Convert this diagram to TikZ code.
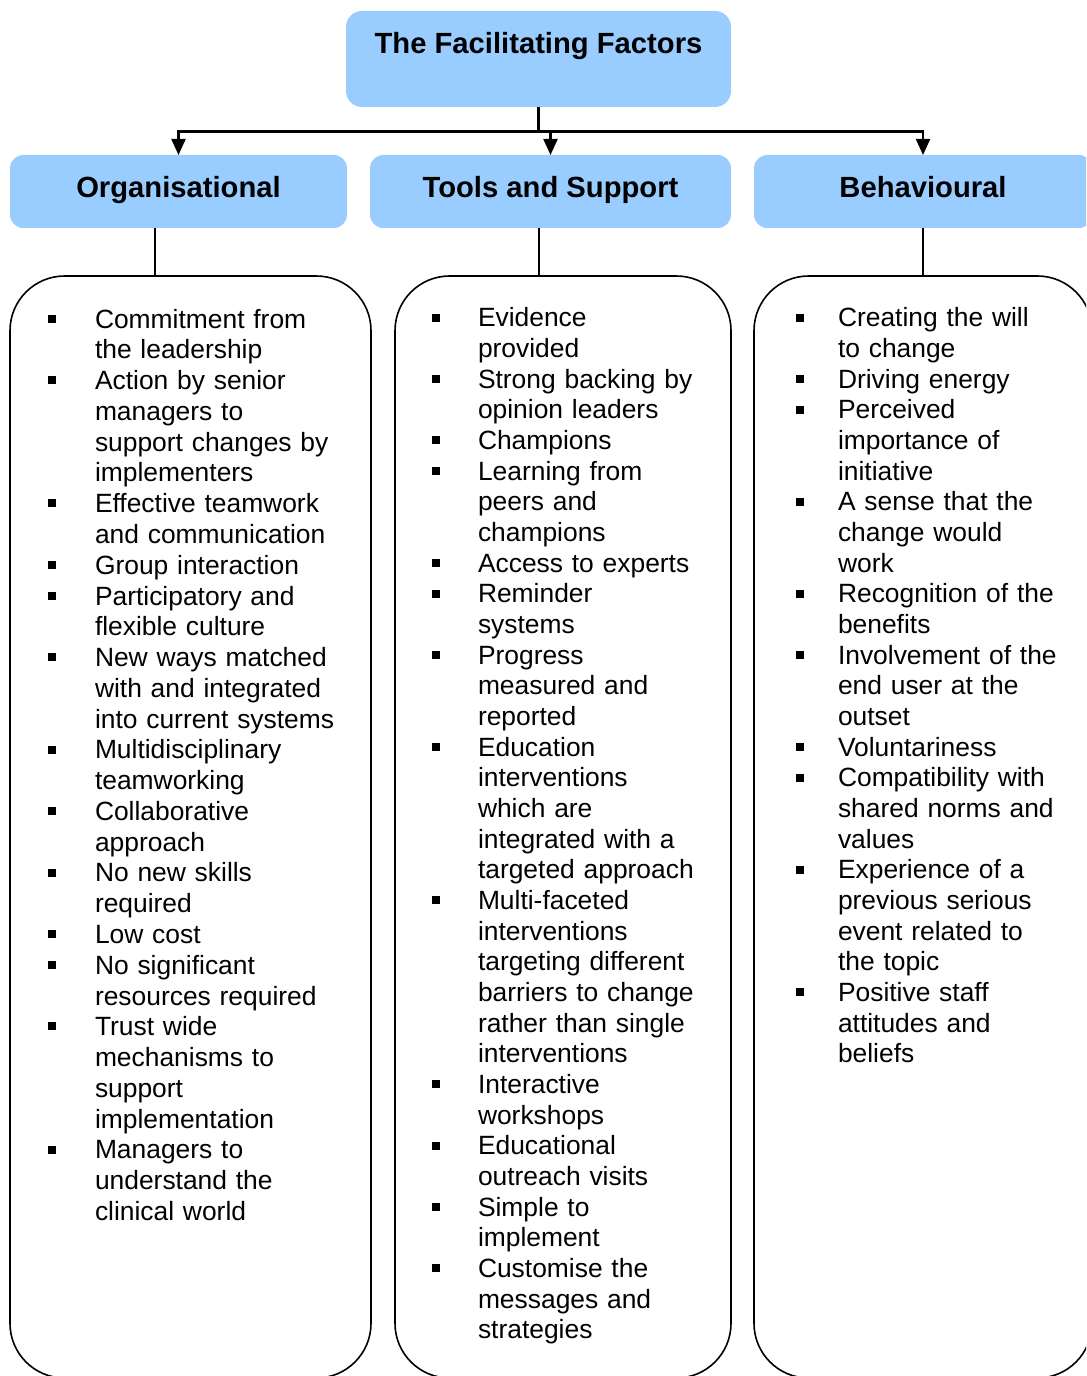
\documentclass[tikz,border=0pt]{standalone}
\usepackage{fontspec}
\setmainfont{Liberation Sans}
\usetikzlibrary{arrows.meta}
\definecolor{hdrblue}{RGB}{153,204,255}
\setlength{\parindent}{0pt}
\def\bgap{29pt}
\newcommand{\sqb}{\leavevmode\strut\llap{\rule[4pt]{6pt}{6pt}\hspace{\bgap}}}
\begin{document}
\begin{tikzpicture}[x=0.75pt,y=-0.75pt,
 hdr/.style={fill=hdrblue, rounded corners=10pt, inner sep=0pt, outer sep=0pt, font=\fontsize{21.9pt}{26pt}\selectfont\bfseries, anchor=base},
 listbox/.style={draw, line width=1.2pt, rounded corners=41pt, inner sep=0pt, outer sep=0pt},
 listtext/.style={anchor=north west, inner sep=0pt, outer sep=0pt, text width=200pt, align=left},
 link/.style={line width=1.1pt},
 arr/.style={line width=1.6pt, -{Triangle[width=10.5pt,length=12pt]}}
]
\useasboundingbox (0,0) rectangle (1086,1376);
\clip (0,0) rectangle (1086,1376);

% header boxes
\node[hdr, text height=32.25pt, text depth=39.75pt, minimum width=288.75pt, rounded corners=12pt] (title) at (538.5,54) {The Facilitating Factors};
\node[hdr, text height=32.25pt, text depth=22.5pt, minimum width=252.75pt] (org) at (178.5,198) {Organisational};
\node[hdr, text height=32.25pt, text depth=22.5pt, minimum width=270.75pt] (tools) at (550.5,198) {Tools and Support};
\node[hdr, text height=32.25pt, text depth=22.5pt, minimum width=253.5pt] (beh) at (923,198) {Behavioural};

% list boxes
\node[listbox, minimum width=270.75pt, minimum height=826.5pt] (lorg) at (190.5,827) {};
\node[listbox, minimum width=252pt, minimum height=826.5pt] (ltools) at (563,827) {};
\node[listbox, minimum width=253.5pt, minimum height=826.5pt] (lbeh) at (923,827) {};

% connectors
\coordinate (hub) at (538.5,131.5);
\coordinate (k1) at (155,0);
\coordinate (k2) at (539,0);
\draw[line width=1.6pt] (title.south) -- (hub);
\draw[arr] (tools.north |- hub) -- (org.north |- hub) -- (org.north);
\draw[arr] (tools.north |- hub) -- (beh.north |- hub) -- (beh.north);
\draw[arr] (tools.north |- hub) -- (tools.north);
\draw[link] (org.south -| k1) -- (lorg.north -| k1);
\draw[link] (tools.south -| k2) -- (ltools.north -| k2);
\draw[link] (beh.south) -- (lbeh.north);

% list texts
\node[listtext, font=\fontsize{19.8pt}{23.08pt}\selectfont] (torg) at (95,306.5) {\def\bgap{29.25pt}%
\sqb Commitment from\\ the leadership\\
\sqb Action by senior\\ managers to\\ support changes by\\ implementers\\
\sqb Effective teamwork\\ and communication\\
\sqb Group interaction\\
\sqb Participatory and\\ flexible culture\\
\sqb New ways matched\\ with and integrated\\ into current systems\\
\sqb Multidisciplinary\\ teamworking\\
\sqb Collaborative\\ approach\\
\sqb No new skills\\ required\\
\sqb Low cost\\
\sqb No significant\\ resources required\\
\sqb Trust wide\\ mechanisms to\\ support\\ implementation\\
\sqb Managers to\\ understand the\\ clinical world};

\node[listtext, font=\fontsize{19.8pt}{23pt}\selectfont] (ttools) at (478,305.5) {\def\bgap{28.5pt}%
\sqb Evidence\\ provided\\
\sqb Strong backing by\\ opinion leaders\\
\sqb Champions\\
\sqb Learning from\\ peers and\\ champions\\
\sqb Access to experts\\
\sqb Reminder\\ systems\\
\sqb Progress\\ measured and\\ reported\\
\sqb Education\\ interventions\\ which are\\ integrated with a\\ targeted approach\\
\sqb Multi-faceted\\ interventions\\ targeting different\\ barriers to change\\ rather than single\\ interventions\\
\sqb Interactive\\ workshops\\
\sqb Educational\\ outreach visits\\
\sqb Simple to\\ implement\\
\sqb Customise the\\ messages and\\ strategies};

\node[listtext, font=\fontsize{19.8pt}{23pt}\selectfont] (tbeh) at (838,305.5) {\def\bgap{25.5pt}%
\sqb Creating the will\\ to change\\
\sqb Driving energy\\
\sqb Perceived\\ importance of\\ initiative\\
\sqb A sense that the\\ change would\\ work\\
\sqb Recognition of the\\ benefits\\
\sqb Involvement of the\\ end user at the\\ outset\\
\sqb Voluntariness\\
\sqb Compatibility with\\ shared norms and\\ values\\
\sqb Experience of a\\ previous serious\\ event related to\\ the topic\\
\sqb Positive staff\\ attitudes and\\ beliefs};
\end{tikzpicture}
\end{document}
